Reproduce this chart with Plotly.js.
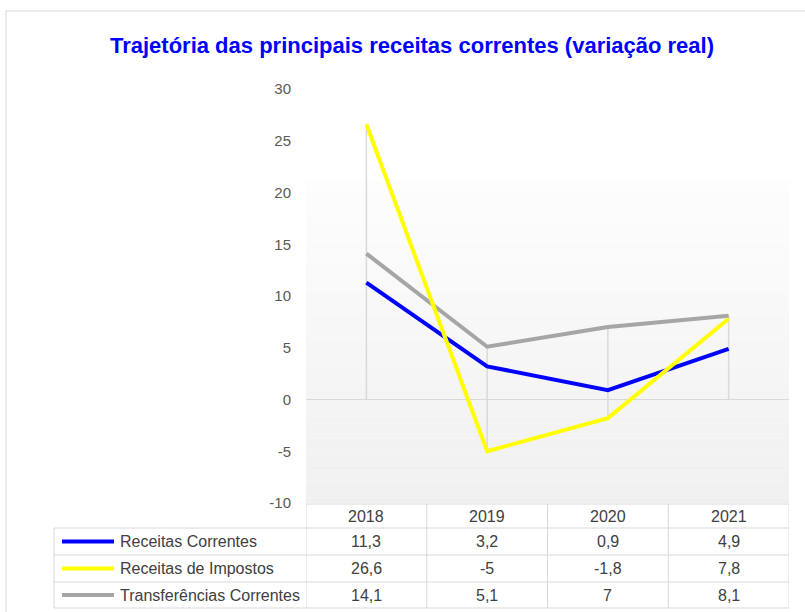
<!DOCTYPE html>
<html>
<head>
<meta charset="utf-8">
<script src="https://cdn.plot.ly/plotly-3.0.1.min.js"></script>
<style>html,body{margin:0;padding:0;background:#fff;}#chart{width:805px;height:612px;}</style>
</head>
<body>
<div id="chart"></div>
<script>
const categories = ['2018', '2019', '2020', '2021'];
const receitasCorrentes = [11.3, 3.2, 0.9, 4.9];
const receitasImpostos = [26.6, -5, -1.8, 7.8];
const transferenciasCorrentes = [14.1, 5.1, 7, 8.1];
const seriesNames = ['Receitas Correntes', 'Receitas de Impostos', 'Transferências Correntes'];
const seriesColors = ['#0000ff', '#ffff00', '#a6a6a6'];
const yTickVals = [-10, -5, 0, 5, 10, 15, 20, 25, 30];
const yTickText = ['-10', '-5', '0', '5', '10', '15', '20', '25', '30'];
const titleText = 'Trajetória das principais receitas correntes (variação real)';

const seriesValues = [receitasCorrentes, receitasImpostos, transferenciasCorrentes];

// pixel layout helpers
const W = 805, H = 612, L = 306, R = 789, T = 89, B = 503;
const px = p => (p - L) / (R - L);
const py = p => (B - p) / (B - T);
const FONT = 'Liberation Sans, Arial, sans-serif';
const GRID = '#d9d9d9';
const TXT = '#404040';

const xIdx = categories.map((c, i) => i);

// drop lines (from each category's extreme values to the zero axis)
const dropX = [], dropY = [];
xIdx.forEach(i => {
  const vals = seriesValues.map(s => s[i]);
  dropX.push(i, i, null);
  dropY.push(Math.max(0, ...vals), Math.min(0, ...vals), null);
});

const traces = [{
  x: dropX, y: dropY, mode: 'lines', type: 'scatter',
  line: {color: GRID, width: 1.5}, hoverinfo: 'skip', showlegend: false
}];
// draw order: gray, blue, yellow (yellow on top)
[2, 0, 1].forEach(k => {
  traces.push({
    x: xIdx, y: seriesValues[k], name: seriesNames[k], type: 'scatter', mode: 'lines',
    line: {color: seriesColors[k], width: 4}, showlegend: false
  });
});

const shapes = [];
// outer frame
shapes.push({type: 'rect', xref: 'paper', yref: 'paper', x0: px(6), x1: px(815), y0: py(11), y1: py(625),
  line: {color: GRID, width: 1}, fillcolor: 'rgba(0,0,0,0)', layer: 'below'});
// plot area gradient
const N = 60, gTop = 21.1, gBot = -10;
for (let i = 0; i < N; i++) {
  const y0 = gTop - (gTop - gBot) * i / N;
  const y1 = gTop - (gTop - gBot) * (i + 1) / N;
  const c = Math.round(253 - (253 - 240) * (i + 0.5) / N);
  shapes.push({type: 'rect', xref: 'paper', yref: 'y', x0: 0, x1: 1, y0: y1, y1: y0,
    line: {width: 0}, fillcolor: `rgb(${c},${c},${c})`, layer: 'below'});
}
// table lines
const rowLines = [528, 555, 582, 608];
shapes.push({type: 'line', xref: 'paper', yref: 'paper', x0: px(306), x1: px(789), y0: py(504), y1: py(504), line: {color: GRID, width: 1}});
rowLines.forEach(r => shapes.push({type: 'line', xref: 'paper', yref: 'paper', x0: px(54), x1: px(789), y0: py(r), y1: py(r), line: {color: GRID, width: 1}}));
shapes.push({type: 'line', xref: 'paper', yref: 'paper', x0: px(54), x1: px(54), y0: py(528), y1: py(608), line: {color: GRID, width: 1}});
for (let k = 0; k <= categories.length; k++) {
  shapes.push({type: 'line', xref: 'x', yref: 'paper', x0: k - 0.5, x1: k - 0.5, y0: py(504), y1: py(608), line: {color: GRID, width: 1}});
}

const annotations = [];
const headerY = (504 + 528) / 2;
const rowCenters = [541.5, 568.5, 595];
categories.forEach((c, i) => {
  annotations.push({xref: 'x', yref: 'paper', x: i, y: py(headerY), text: c, showarrow: false,
    xanchor: 'center', yanchor: 'middle', font: {family: FONT, size: 16, color: TXT}});
});
seriesValues.forEach((vals, k) => {
  const yc = py(rowCenters[k]);
  shapes.push({type: 'line', xref: 'paper', yref: 'paper', x0: px(62), x1: px(114), y0: yc, y1: yc,
    line: {color: seriesColors[k], width: 4}});
  annotations.push({xref: 'paper', yref: 'paper', x: px(118), y: yc, text: seriesNames[k], showarrow: false,
    xanchor: 'left', yanchor: 'middle', font: {family: FONT, size: 16, color: TXT}});
  vals.forEach((v, i) => {
    annotations.push({xref: 'x', yref: 'paper', x: i, y: yc, text: String(v).replace('.', ','), showarrow: false,
      xanchor: 'center', yanchor: 'middle', font: {family: FONT, size: 16, color: TXT}});
  });
});

const layout = {
  width: W, height: H,
  margin: {l: L, r: W - R, t: T, b: H - B, pad: 0},
  paper_bgcolor: '#ffffff', plot_bgcolor: 'rgba(0,0,0,0)',
  title: {text: '<b>' + titleText + '</b>', x: 412 / W, xref: 'container', xanchor: 'center',
    y: 1 - 45 / H, yref: 'container', yanchor: 'middle',
    font: {family: FONT, size: 22, color: '#0000ff'}},
  xaxis: {range: [-0.5, 3.5], showgrid: false, zeroline: false, showticklabels: false, showline: false, ticks: '', fixedrange: true},
  yaxis: {range: [-10, 30], tickvals: yTickVals, ticktext: yTickText, showgrid: false, zeroline: true,
    zerolinecolor: GRID, zerolinewidth: 1.5, showline: false, ticks: '', ticklabelstandoff: 14,
    tickfont: {family: FONT, size: 15, color: '#595959'}, fixedrange: true},
  shapes: shapes, annotations: annotations, showlegend: false
};

Plotly.newPlot('chart', traces, layout, {displayModeBar: false, staticPlot: true});
</script>
</body>
</html>
